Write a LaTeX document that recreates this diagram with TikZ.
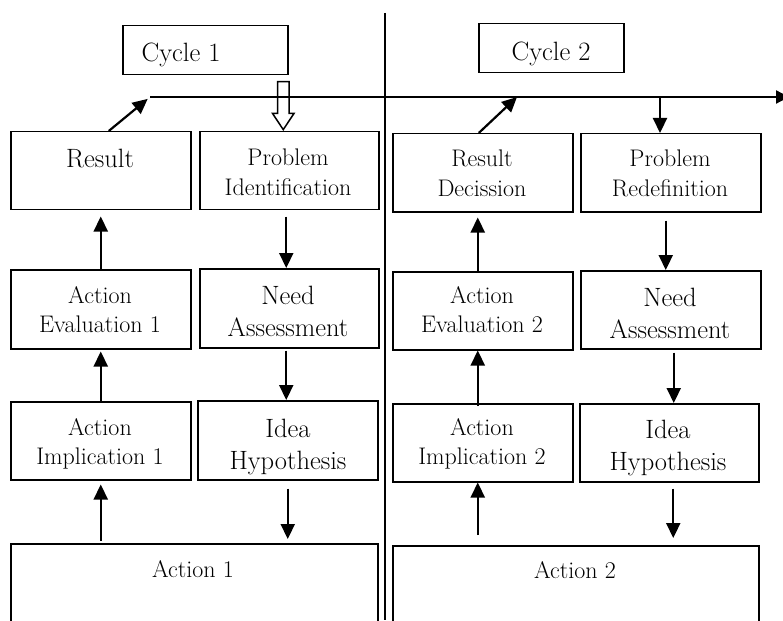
\documentclass[tikz,border=0pt]{standalone}
\usepackage{tikz}
\usetikzlibrary{arrows.meta,shapes.arrows}

\tikzset{
 box/.style={draw, line width=1.5pt, inner sep=0pt, anchor=north west},
 txt/.style={align=center, inner sep=0pt, anchor=north, font=\fontsize{24}{29.5}\selectfont},
 bigtxt/.style={txt, font=\fontsize{26.5}{32}\selectfont},
 arr/.style={line width=2.2pt, -{Triangle[length=15pt,width=14pt]}},
 hollow/.style={single arrow, draw, line width=1.5pt, rotate=-90, inner sep=5pt,
  minimum height=48, single arrow head extend=5pt,
  single arrow tip angle=67}
}

\begin{document}
\begin{tikzpicture}[x=1pt,y=-1pt]
\useasboundingbox (0,0) rectangle (783,620);
\clip (0,0) rectangle (783,620);

% cycle 1
\node[box, minimum width=165, minimum height=49] (cyc1) at (122,25) {};
\node[box, minimum width=180, minimum height=78] (res1) at (10,131) {};
\node[box, minimum width=179, minimum height=78] (prob1) at (199,131) {};
\node[box, minimum width=180, minimum height=79] (eval1) at (10,269) {};
\node[box, minimum width=179, minimum height=79] (need1) at (199,268) {};
\node[box, minimum width=180, minimum height=78] (impl1) at (10,401) {};
\node[box, minimum width=180, minimum height=79] (idea1) at (197,400) {};
\node[box, minimum width=367, minimum height=100] (act1) at (10,543) {};

\node[bigtxt] (cyc1t) at (181,43) {Cycle 1};
\node[bigtxt] (res1t) at (100,149) {Result};
\node[txt] (prob1t) at (288,149) {Problem\\Identification};
\node[txt] (eval1t) at (100,286) {Action\\Evaluation 1};
\node[bigtxt] (need1t) at (288,286) {Need\\Assessment};
\node[txt] (impl1t) at (100,418) {Action\\Implication 1};
\node[bigtxt] (idea1t) at (288,419) {Idea\\Hypothesis};
\node[txt] (act1t) at (193,560) {Action 1};

% cycle 2
\node[box, minimum width=145, minimum height=49] (cyc2) at (478,23) {};
\node[box, minimum width=180, minimum height=78] (res2) at (392,133) {};
\node[box, minimum width=180, minimum height=78] (prob2) at (580,133) {};
\node[box, minimum width=180, minimum height=78] (eval2) at (392,271) {};
\node[box, minimum width=180, minimum height=78] (need2) at (580,270) {};
\node[box, minimum width=180, minimum height=78] (impl2) at (392,403) {};
\node[box, minimum width=179, minimum height=78] (idea2) at (579,403) {};
\node[box, minimum width=366, minimum height=100] (act2) at (392,545) {};

\node[bigtxt] (cyc2t) at (551,42) {Cycle 2};
\node[txt] (res2t) at (482,150) {Result\\Decission};
\node[txt] (prob2t) at (670,150) {Problem\\Redefinition};
\node[txt] (eval2t) at (482,286) {Action\\Evaluation 2};
\node[bigtxt] (need2t) at (670,288) {Need\\Assessment};
\node[txt] (impl2t) at (482,418) {Action\\Implication 2};
\node[bigtxt] (idea2t) at (668,420) {Idea\\Hypothesis};
\node[txt] (act2t) at (575,561) {Action 2};

% divider and time line
\coordinate (dtop) at (385,13);
\coordinate (dbot) at (385,620);
\draw[line width=1.5pt] (dtop) -- (dbot);
\coordinate (tl) at (150,97);
\coordinate (t2) at (517,97);
\coordinate (t3) at (660,97);
\coordinate (tr) at (789,97);
\draw[line width=2.2pt, -{Triangle[length=13pt,width=13pt]}] (tl) -- (tr);

% arrows cycle 1
\draw[arr, shorten >=3pt] ([xshift=8pt]res1.north) -- (tl);
\node[hollow, anchor=tip] (down1) at ([xshift=-6pt]prob1.north) {};
\draw[arr, shorten >=6pt] (eval1.north) -- (res1.south);
\draw[arr, shorten >=2pt] (impl1.north) -- (eval1.south);
\draw[arr, shorten <=2pt, shorten >=4pt] (impl1.south |- act1.north) -- (impl1.south);
\draw[arr, shorten <=6pt] ([xshift=-3pt]prob1.south) -- ([xshift=-3pt]need1.north);
\draw[arr, shorten <=2pt] ([xshift=-3pt]need1.south) -- ([xshift=-3pt]need1.south |- idea1.north);
\draw[arr, shorten <=8pt, shorten >=4pt] (idea1.south) -- (idea1.south |- act1.north);

% arrows cycle 2
\draw[arr] ([xshift=-4pt]res2.north) -- (t2);
\draw[arr] (t3) -- (t3 |- prob2.north);
\draw[arr, shorten >=5pt] ([xshift=-5pt]eval2.north) -- ([xshift=-5pt]res2.south);
\draw[arr, shorten <=-3pt] ([xshift=-5pt]impl2.north) -- ([xshift=-5pt]eval2.south);
\draw[arr, shorten <=10pt] ([xshift=-5pt]impl2.south |- act2.north) -- ([xshift=-5pt]impl2.south);
\draw[arr, shorten <=8pt] ([xshift=-5pt]prob2.south) -- ([xshift=-5pt]need2.north);
\draw[arr, shorten <=3pt] ([xshift=3pt]need2.south) -- ([xshift=3pt]need2.south |- idea2.north);
\draw[arr, shorten <=6pt, shorten >=7pt] ([xshift=4pt]idea2.south) -- ([xshift=4pt]idea2.south |- act2.north);
\end{tikzpicture}
\end{document}
